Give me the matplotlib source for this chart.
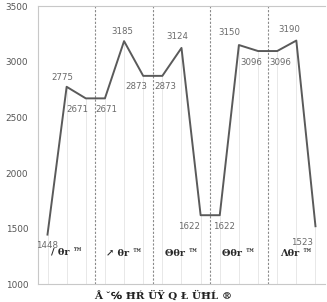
import matplotlib
matplotlib.use('Agg')
import matplotlib.pyplot as plt

# values
values = [1448, 2775, 2671, 2671, 3185, 2873, 2873, 3124, 1622, 1622,
          3150, 3096, 3096, 3190, 1523]
group_labels = ['/ θr ™', '↗ θr ™', 'Θθr ™', 'Θθr ™', 'Λθr ™']
y_ticks = [1000, 1500, 2000, 2500, 3000, 3500]
x_title = 'Å ˇ℅ ĦŔ ÜŸ Q Ł ÜĦĹ ®'

# label offsets in points (dx, dy) for each data label
offsets = [(0, -8), (-3, 7), (-6, -8), (1, -8), (-1, 7), (-5, -8), (2, -8),
           (-3, 8), (-8, -8), (3, -8), (-7, 9), (-5, -8), (2, -8), (-5, 8),
           (-10, -12)]

serif = ['DejaVu Serif', 'DejaVu Sans', 'Noto Sans CJK SC']

fig = plt.figure(figsize=(3.27, 3.02), dpi=100)
ax = fig.add_axes([0.116, 0.058, 0.878, 0.922])

x = list(range(len(values)))

# faint drop lines from each point
for xi, v in zip(x, values):
    ax.plot([xi, xi], [1000, v], color='#e4e4e4', lw=0.6, zorder=1)

ax.plot(x, values, color='#5a5a5a', lw=1.4, zorder=3)

for xi, v, (dx, dy) in zip(x, values, offsets):
    ax.annotate(str(v), (xi, v), xytext=(dx, dy), textcoords='offset points',
                ha='center', va='center', fontsize=6.2, color='#6a6a6a')

# dashed separators between groups
for b in [2.5, 5.5, 8.5, 11.5]:
    ax.axvline(b, color='#8a8a8a', lw=0.8, ls=(0, (2, 1.5)), zorder=2)

for i, lab in enumerate(group_labels):
    ax.text(3 * i + 1, 1280, lab, ha='center', va='center', fontsize=7,
            fontweight='bold', family=serif, color='#2a2a2a')

ax.set_xlim(-0.5, 14.5)
ax.set_ylim(1000, 3500)
ax.set_yticks(y_ticks)
ax.set_xticks([])
ax.tick_params(axis='y', length=0, labelsize=6.4, labelcolor='#555555', pad=7)

for side in ['left', 'top', 'bottom']:
    ax.spines[side].set_color('#c8c8c8')
    ax.spines[side].set_linewidth(0.8)
ax.spines['right'].set_visible(False)

fig.text(0.5, 0.003, x_title, ha='center', va='bottom', fontsize=7.5,
         fontweight='bold', family=serif, color='#222222')

fig.savefig('out.png', dpi=100)
